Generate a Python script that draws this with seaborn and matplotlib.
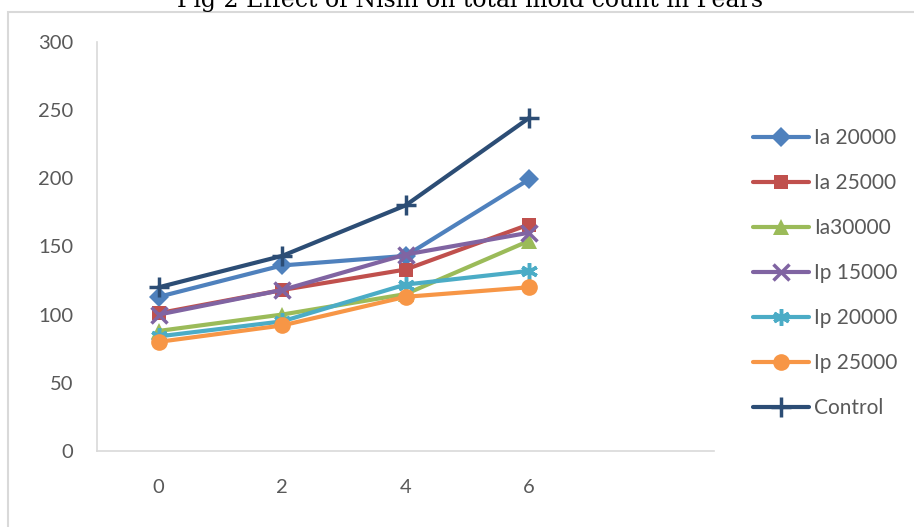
import matplotlib
matplotlib.use("Agg")
import matplotlib.pyplot as plt
import seaborn as sns
import pandas as pd
from matplotlib.patches import Rectangle

# Storage time (days) and mold counts per treatment
days = [0, 2, 4, 6]
series_names = ["Ia 20000", "Ia 25000", "Ia30000", "Ip 15000", "Ip 20000", "Ip 25000", "Control"]
ia_20000 = [113, 136, 143, 199]
ia_25000 = [101, 118, 133, 166]
ia_30000 = [88, 100, 115, 154]
ip_15000 = [100, 118, 144, 160]
ip_20000 = [84, 95, 122, 132]
ip_25000 = [80, 92, 113, 120]
control = [120, 143, 180, 244]
y_ticks = [0, 50, 100, 150, 200, 250, 300]

values = [ia_20000, ia_25000, ia_30000, ip_15000, ip_20000, ip_25000, control]
colors = ["#4F81BD", "#C0504D", "#9BBB59", "#8064A2", "#4BACC6", "#F79646", "#2C4D75"]
markers = ["D", "s", "^", "x", (6, 2, 0), "o", "+"]
msizes = [10, 10, 11, 11, 12, 12, 14]

df = pd.DataFrame({
    "day": [d for _ in series_names for d in days],
    "count": [v for vals in values for v in vals],
    "series": [n for n in series_names for _ in days],
})

sns.set_theme(style="white")
plt.rcParams["font.family"] = ["Lato", "DejaVu Sans"]

fig = plt.figure(figsize=(9.14, 5.27), dpi=100)
ax = fig.add_axes([97 / 914, 1 - 451 / 527, (714 - 97) / 914, (451 - 41.7) / 527])

for name, col, mk, ms in zip(series_names, colors, markers, msizes):
    sub = df[df["series"] == name]
    sns.lineplot(data=sub, x="day", y="count", ax=ax, color=col, marker=mk,
                 markersize=ms, linewidth=3, markeredgewidth=2.5 if mk in ("x", "+", (6, 2, 0)) else 0,
                 markeredgecolor=col, label=name, sort=False)

ax.set_xlim(-1, 9)
ax.set_ylim(0, 300)
ax.set_xticks(days)
ax.set_xticklabels([str(d) for d in days])
ax.set_yticks(y_ticks)
ax.set_xlabel("")
ax.set_ylabel("")
ax.tick_params(axis="both", length=0, labelsize=14.5, colors="#595959")
ax.tick_params(axis="y", pad=17)
ax.tick_params(axis="x", pad=20)
for side in ("top", "right"):
    ax.spines[side].set_visible(False)
for side in ("left", "bottom"):
    ax.spines[side].set_color("#D9D9D9")
    ax.spines[side].set_linewidth(1.2)

leg = ax.legend(loc="upper left", bbox_to_anchor=(743 / 914, 1 - 118 / 527),
                bbox_transform=fig.transFigure, frameon=False, fontsize=15,
                handlelength=2.65, handletextpad=0.25, labelspacing=1.2, borderpad=0)
for t in leg.get_texts():
    t.set_color("#595959")

# Outer chart frame
fig.patches.append(Rectangle((8 / 914, -0.05), 1.0, 1 - 12 / 527 + 0.05,
                             transform=fig.transFigure, fill=False,
                             edgecolor="#D9D9D9", linewidth=1.5))

fig.text(470 / 914, 1 - 7 / 527, "Fig 2 Effect of Nisin on total mold count in Pears",
         ha="center", va="baseline", fontsize=17, family="DejaVu Serif", color="black")

fig.savefig("out.png", dpi=100, facecolor="white")
